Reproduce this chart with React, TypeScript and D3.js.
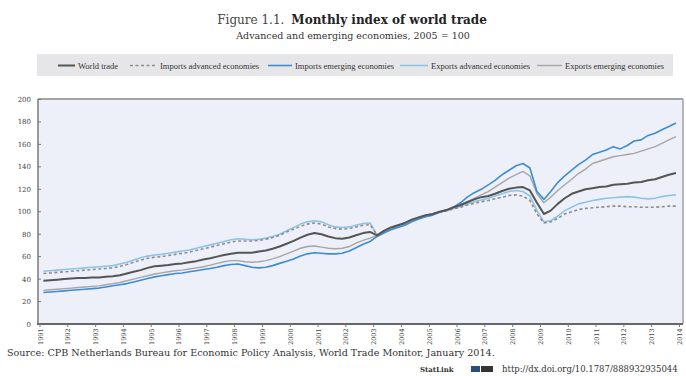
import React from "react";
import * as d3 from "d3";

// Monthly index of world trade, 2005 = 100 (quarterly readings, Feb/May/Aug/Nov)
const firstYear = 1991;
const lastYear = 2013;
const quarterMonths = [1, 4, 7, 10];

const tickYears = [
  1991, 1992, 1993, 1994, 1995, 1996, 1997, 1998, 1999, 2000, 2001, 2002,
  2003, 2004, 2005, 2006, 2007, 2008, 2009, 2010, 2011, 2012, 2013, 2014,
];
const yTicks = [0, 20, 40, 60, 80, 100, 120, 140, 160, 180, 200];

const worldTrade = [
  38.5, 39, 39.5, 40, 40.5, 41, 41, 41.5, 41.5, 42, 42.5, 43.5,
  45, 46.5, 48, 50, 51.5, 52, 52.5, 53.5, 54, 55, 56, 57.5,
  58.5, 60, 61.5, 62.5, 63.5, 63.5, 63.5, 64.5, 65.5, 67, 69, 71.5,
  74, 77, 79.5, 81, 80, 78, 76.5, 76, 77, 79, 81, 82,
  79, 83, 86, 88, 90, 93, 95, 97, 98, 100, 101.5, 104,
  106, 108.5, 111, 113, 114, 116, 118.5, 120.5, 121.5, 122, 119, 108,
  98, 101, 107, 112, 116, 118, 120, 121, 122, 122.5, 124, 124.5,
  125, 126, 126.5, 128, 129, 131, 133, 134.5,
];

const importsAdvanced = [
  45, 45.5, 46, 46.5, 47, 47.5, 48, 48.5, 49, 49.5, 50, 51.5,
  53, 55, 57, 58.5, 59.5, 60, 61, 62, 63, 64, 65.5, 67,
  68.5, 70, 71.5, 73, 74, 74, 74, 74.5, 75.5, 77, 79, 82,
  84.5, 87, 89, 90, 89, 86.5, 85, 84.5, 85, 86.5, 88, 88.5,
  79.5, 82.5, 85.5, 87.5, 90, 92.5, 94.5, 96.5, 98, 99.5, 101, 102.5,
  104, 106, 107.5, 109, 110, 111.5, 113, 114.5, 115, 114, 110, 98,
  90, 91, 94, 98, 100, 102, 103, 103.5, 104, 104.5, 105, 105,
  104.5, 104.5, 104, 104, 104, 104.5, 105, 105,
];

const importsEmerging = [
  28, 28.5, 29, 29.5, 30, 30.5, 31, 31.5, 32, 33, 34, 35,
  36, 37.5, 39, 40.5, 42, 43, 44, 45, 45.5, 46.5, 47.5, 48.5,
  49.5, 50.5, 52, 53, 53.5, 52, 50.5, 50, 50.5, 52, 54, 56,
  58, 60.5, 62.5, 63.5, 63, 62.5, 62.5, 63, 65, 68, 71, 73.5,
  78, 81, 84, 86, 88, 91, 93.5, 95.5, 97, 99.5, 101.5, 104,
  108, 113, 117, 120, 124, 128, 133, 137, 141, 143, 139, 118,
  111, 118, 126, 132, 137, 142, 146, 151, 153, 155, 158, 156,
  159, 163, 164, 168, 170, 173, 176, 179,
];

const exportsAdvanced = [
  47, 47.5, 48, 48.5, 49, 49.5, 50, 50.5, 51, 51.5, 52, 53.5,
  55, 57, 59, 60.5, 61.5, 62, 63, 64, 65, 66, 67.5, 69,
  70.5, 72, 73.5, 75, 76, 75.5, 75, 75.5, 76.5, 78, 80, 83,
  86, 89, 91, 92, 91, 88.5, 86.5, 86, 86.5, 88, 89.5, 90,
  79, 82, 85, 87, 90, 93, 95, 97, 98, 99.5, 101, 103,
  105, 107, 109, 110.5, 112, 114, 116, 118, 119, 118, 114, 101,
  91, 92, 96, 101, 104, 107, 108.5, 110, 111, 112, 112.5, 113,
  113.5, 113, 112, 111.5, 112, 113.5, 114.5, 115,
];

const exportsEmerging = [
  30, 30.5, 31, 31.5, 32, 32.5, 33, 33.5, 34, 35, 36, 37,
  38.5, 40, 41.5, 43, 44.5, 45.5, 46.5, 47.5, 48, 49, 50, 51,
  52.5, 54, 55.5, 56.5, 56.5, 55.5, 55, 55.5, 56.5, 58, 60, 62.5,
  65, 67.5, 69, 69.5, 68.5, 67.5, 67, 67.5, 69, 72, 74.5, 76.5,
  79, 82, 85, 87, 89, 92, 94, 96, 97.5, 99.5, 101, 103.5,
  106, 109, 112, 115, 118, 122, 126, 130, 133, 136, 132, 116,
  108, 113, 119, 124, 129, 134, 138, 143, 145, 147, 149, 150,
  151, 152, 154, 156, 158, 161, 164, 167,
];

const legendLabels = [
  "World trade",
  "Imports advanced economies",
  "Imports emerging economies",
  "Exports advanced economies",
  "Exports emerging economies",
];

// Styling per series, in legend order
const seriesStyles = [
  { color: "#555555", width: 2, dash: "" },
  { color: "#8e8e8e", width: 1.6, dash: "3,2.5" },
  { color: "#3d8dd0", width: 1.6, dash: "" },
  { color: "#8ec3e6", width: 1.6, dash: "" },
  { color: "#a6a6a6", width: 1.4, dash: "" },
];

const seriesValues = [worldTrade, importsAdvanced, importsEmerging, exportsAdvanced, exportsEmerging];
// Draw order: light lines underneath, world trade on top
const drawOrder = [4, 3, 1, 2, 0];

const dates: Date[] = [];
for (let y = firstYear; y <= lastYear; y++) {
  for (const m of quarterMonths) dates.push(new Date(y, m, 15));
}

const W = 686;
const H = 376;
const plot = { left: 38, right: 683, top: 99, bottom: 324 };

const serif = "'Liberation Serif', 'DejaVu Serif', serif";
const wideSerif = "'DejaVu Serif', serif";

export default function App() {
  const x = d3
    .scaleTime()
    .domain([new Date(1991, 0, 1), new Date(2014, 0, 1)])
    .range([40, 679.5]);
  const y = d3.scaleLinear().domain([0, 200]).range([plot.bottom, plot.top + 0.5]);

  const line = (vals: number[]) =>
    d3
      .line<number>()
      .x((_, i) => x(dates[i]))
      .y((v) => y(v))(vals) as string;

  const legendX = [58, 130, 268, 400, 537];
  const legendSampleW = [17, 27, 24, 28, 25];

  return (
    <svg
      width={W}
      height={H}
      viewBox={`0 0 ${W} ${H}`}
      style={{ position: "absolute", left: 0, top: 0, display: "block", background: "#fff" }}
      fontFamily={serif}
    >
      <rect x={0} y={0} width={W} height={H} fill="#ffffff" />

      {/* Title block */}
      <text x={352} y={24} textAnchor="middle" fontSize={12} fill="#222" fontFamily={wideSerif}>
        <tspan fontWeight="normal" fill="#444">Figure 1.1.</tspan>
        <tspan dx={7} fontWeight="bold">Monthly index of world trade</tspan>
      </text>
      <text x={353} y={39} textAnchor="middle" fontSize={9.5} fill="#333" fontFamily={wideSerif}>
        Advanced and emerging economies, 2005 = 100
      </text>

      {/* Legend */}
      <rect x={37} y={54} width={636} height={22} fill="#e6e6e8" />
      {legendLabels.map((label, i) => {
        const s = seriesStyles[i];
        const lx = legendX[i];
        const sw = legendSampleW[i];
        return (
          <g key={label}>
            <line
              x1={lx}
              x2={lx + sw}
              y1={65.5}
              y2={65.5}
              stroke={s.color}
              strokeWidth={s.width}
              strokeDasharray={s.dash || undefined}
            />
            <text x={lx + sw + 3} y={68.5} fontSize={8.5} fill="#333">
              {label}
            </text>
          </g>
        );
      })}

      {/* Plot area */}
      <rect
        x={plot.left}
        y={plot.top}
        width={plot.right - plot.left}
        height={plot.bottom - plot.top}
        fill="#eef0f9"
      />

      {drawOrder.map((k) => {
        const s = seriesStyles[k];
        return (
          <path
            key={k}
            d={line(seriesValues[k])}
            fill="none"
            stroke={s.color}
            strokeWidth={s.width}
            strokeDasharray={s.dash || undefined}
            strokeLinejoin="round"
          />
        );
      })}

      {/* Frame */}
      <line x1={plot.left} x2={plot.right} y1={plot.top} y2={plot.top} stroke="#a3a3a3" strokeWidth={2} />
      <line x1={plot.right} x2={plot.right} y1={plot.top} y2={plot.bottom} stroke="#a3a3a3" strokeWidth={1.5} />
      <line x1={plot.left} x2={plot.left} y1={plot.top} y2={plot.bottom} stroke="#7a7a7a" strokeWidth={1.5} />
      <line x1={plot.left - 1} x2={plot.right} y1={plot.bottom} y2={plot.bottom} stroke="#666" strokeWidth={2} />

      {/* Y axis */}
      {yTicks.map((t) => (
        <g key={t}>
          <line x1={plot.left} x2={plot.left + 3} y1={y(t)} y2={y(t)} stroke="#777" strokeWidth={1} />
          <text x={31} y={y(t) + 2.5} textAnchor="end" fontSize={7} fill="#444" fontFamily={wideSerif}>
            {t}
          </text>
        </g>
      ))}

      {/* X axis */}
      {tickYears.map((yr) => {
        const tx = x(new Date(yr, 0, 1));
        return (
          <g key={yr}>
            <line x1={tx} x2={tx} y1={plot.bottom} y2={plot.bottom + 3} stroke="#777" strokeWidth={1} />
            <text
              transform={`translate(${tx + 2.5},${plot.bottom + 21}) rotate(-90)`}
              fontSize={6.5}
              fill="#444"
              fontFamily={wideSerif}
            >
              {yr}
            </text>
          </g>
        );
      })}

      {/* Source and link */}
      <text x={7} y={356} fontSize={9.6} fill="#333" fontFamily={wideSerif}>
        Source: CPB Netherlands Bureau for Economic Policy Analysis, World Trade Monitor, January 2014.
      </text>
      <text x={420} y={372} fontSize={7} fill="#333" fontWeight="bold" fontFamily={wideSerif}>
        StatLink
      </text>
      <rect x={471} y={366} width={9} height={6} fill="#2a4b7c" />
      <rect x={481} y={366} width={12} height={6} fill="#333" />
      <text x={502} y={372} fontSize={8.5} fill="#333" fontFamily={wideSerif}>
        http://dx.doi.org/10.1787/888932935044
      </text>
    </svg>
  );
}
